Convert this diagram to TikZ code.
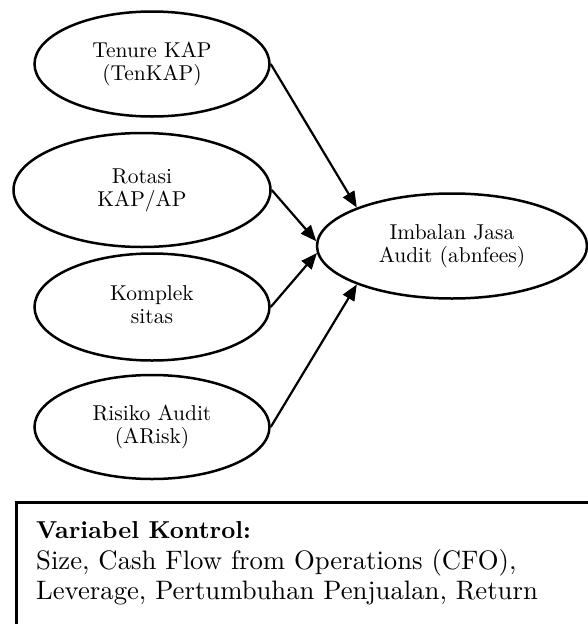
\documentclass[tikz,border=0pt]{standalone}
\usepackage{graphicx}
\usetikzlibrary{shapes.geometric,arrows.meta}
\newcommand{\ovaltext}[1]{\scalebox{2.15}{\fontsize{10}{10.8}\selectfont\begin{tabular}{@{}c@{}}#1\end{tabular}}}
\newcommand{\ctltext}[2]{\scalebox{#1}{\fontsize{10}{12}\selectfont #2}}
\begin{document}
\begin{tikzpicture}[x=1pt,y=-1pt,
  oval/.style={ellipse, draw, line width=2.5pt, inner sep=0pt, align=center},
  link/.style={line width=2.2pt, -{Triangle[length=16pt,width=13pt]}},
  boxtext/.style={anchor=base west, inner sep=0pt}]
\useasboundingbox (0,0) rectangle (588,624);
\clip (0,0) rectangle (588,624);
\node[oval, minimum width=235pt, minimum height=105pt] (ten) at (152,64) {\ovaltext{Tenure KAP\\(TenKAP)}};
\node[oval, minimum width=257pt, minimum height=114pt] (rot) at (142,190) {\ovaltext{Rotasi\\KAP/AP}};
\node[oval, minimum width=235pt, minimum height=107pt] (kom) at (152,307) {\ovaltext{Komplek\\sitas}};
\node[oval, minimum width=235pt, minimum height=104pt] (ris) at (152,427) {\ovaltext{Risiko Audit\\(ARisk)}};
\node[oval, minimum width=270pt, minimum height=105pt] (fee) at (452,246) {\ovaltext{Imbalan Jasa\\Audit (abnfees)}};
\draw[link] (ten.east) -- (fee.158);
\draw[link] (rot.east) -- (fee.178);
\draw[link] (kom.east) -- (fee.183);
\draw[link] (ris.east) -- (fee.202);
\node[draw, line width=3pt, anchor=north west, inner sep=0pt,
      minimum width=620pt, minimum height=160pt] (ctl) at (15,501) {};
\node[boxtext] (l1) at (36,538) {\ctltext{2.45}{\bfseries Variabel Kontrol:}};
\node[boxtext] (l2) at (36,569) {\ctltext{2.67}{Size, Cash Flow from Operations (CFO),}};
\node[boxtext] (l3) at (36,599) {\ctltext{2.67}{Leverage, Pertumbuhan Penjualan, Return}};
\end{tikzpicture}
\end{document}
